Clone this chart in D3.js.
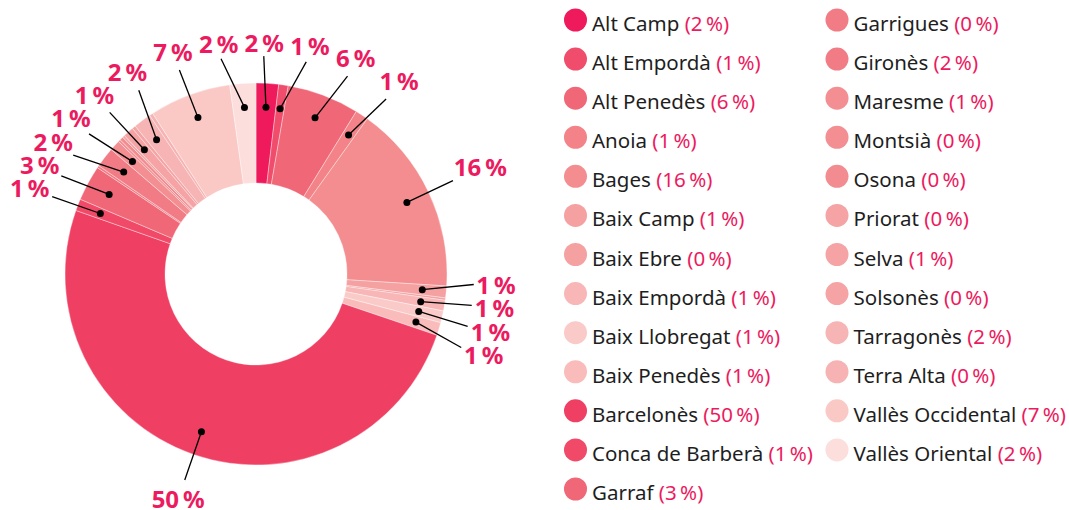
<!DOCTYPE html>
<html>
<head>
<meta charset="utf-8">
<title>Comarques</title>
<script src="https://d3js.org/d3.v7.min.js"></script>
<style>
  body { margin: 0; background: #fff; }
  svg { display: block; font-family: "Noto Sans", sans-serif; }
  .legend text { font-size: 20.5px; fill: #1e1e1e; }
  .legend .pct { fill: #ec1a5e; }
  .slice-label { font-size: 24px; font-weight: bold; fill: #ec1a5e; }
  .connector { stroke: #000; stroke-width: 1.3; fill: none; }
</style>
</head>
<body>
<div id="chart"></div>
<script>
// comarques, in legend / slice order
const comarques = [
  "Alt Camp", "Alt Empordà", "Alt Penedès", "Anoia", "Bages", "Baix Camp",
  "Baix Ebre", "Baix Empordà", "Baix Llobregat", "Baix Penedès", "Barcelonès",
  "Conca de Barberà", "Garraf", "Garrigues", "Gironès", "Maresme", "Montsià",
  "Osona", "Priorat", "Selva", "Solsonès", "Tarragonès", "Terra Alta",
  "Vallès Occidental", "Vallès Oriental"
];
// share of total, percent
const shares = [
  1.9, 0.8, 6.1, 1.1, 16.1, 1.0,
  0.2, 0.9, 1.0, 1.1, 50.2,
  1.0, 3.0, 0.2, 1.7, 0.9, 0.2,
  0.3, 0.2, 0.9, 0.3, 1.5, 0.3,
  6.9, 2.2
];
const palette = [
  "#ee1a5b", "#f04c6b", "#f06877", "#f38388", "#f48d8f", "#f5a0a1",
  "#f5a0a1", "#f8b6b6", "#facac8", "#f9bcbb", "#ef3f63",
  "#f04a68", "#f06777", "#f27c85", "#f27c85", "#f38f92", "#f38f92",
  "#f38c90", "#f5a3a4", "#f5a3a4", "#f5a3a4", "#f7b4b4", "#f7b3b3",
  "#fac9c6", "#fcdedc"
];

const W = 1069, H = 510;
const cx = 256, cy = 274;
const rOuter = 191, rInner = 91, rDot = 167, rLine = 218;

const svg = d3.select("#chart").append("svg")
  .attr("width", W)
  .attr("height", H);

const data = comarques.map((name, i) => ({name, value: shares[i]}));
const color = d3.scaleOrdinal().domain(comarques).range(palette);

const pie = d3.pie().sort(null).value(d => d.value);
const arc = d3.arc().innerRadius(rInner).outerRadius(rOuter);
const arcs = pie(data);

const ring = svg.append("g").attr("transform", `translate(${cx},${cy})`);

ring.selectAll("path")
  .data(arcs)
  .join("path")
  .attr("d", arc)
  .attr("fill", d => color(d.data.name))
  .attr("stroke", "#fff")
  .attr("stroke-width", 0.6)
  .attr("stroke-opacity", 0.6);

// labels for slices that round to at least 1 %
const fmt = v => Math.round(v) + "\u2009%";
const labels = arcs.filter(d => Math.round(d.data.value) >= 1).map(d => {
  const mid = (d.startAngle + d.endAngle) / 2;
  return {mid, a: mid, text: fmt(d.data.value)};
});

const labelG = ring.append("g");
const labelText = labelG.selectAll("text")
  .data(labels)
  .join("text")
  .attr("class", "slice-label")
  .attr("text-anchor", "middle")
  .attr("dy", "0.36em")
  .text(d => d.text);

labelText.each(function(d) { d.w = this.getComputedTextLength(); d.h = 20; });

function place(d) {
  const s = Math.sin(d.a), c = -Math.cos(d.a);
  const off = (d.w / 2) * Math.abs(s) + (d.h / 2) * Math.abs(c) + 2;
  d.ex = rLine * s; d.ey = rLine * c;
  d.x = (rLine + off) * s; d.y = (rLine + off) * c;
}
function overlap(p, q) {
  return Math.abs(p.x - q.x) < (p.w + q.w) / 2 + 6 &&
         Math.abs(p.y - q.y) < (p.h + q.h) / 2 + 3;
}
for (let it = 0; it < 800; it++) {
  labels.forEach(place);
  let moved = false;
  for (let i = 0; i < labels.length; i++) {
    const p = labels[i], q = labels[(i + 1) % labels.length];
    if (overlap(p, q)) { p.a -= 0.002; q.a += 0.002; moved = true; }
  }
  if (!moved) break;
}
labels.forEach(place);

labelG.selectAll("line")
  .data(labels)
  .join("line")
  .attr("class", "connector")
  .attr("x1", d => rDot * Math.sin(d.mid))
  .attr("y1", d => -rDot * Math.cos(d.mid))
  .attr("x2", d => d.ex)
  .attr("y2", d => d.ey);

labelG.selectAll("circle")
  .data(labels)
  .join("circle")
  .attr("cx", d => rDot * Math.sin(d.mid))
  .attr("cy", d => -rDot * Math.cos(d.mid))
  .attr("r", 3.5)
  .attr("fill", "#000");

labelText.attr("x", d => d.x).attr("y", d => d.y).raise();

// legend, two columns
const perCol = 13;
const rowY = d3.scaleLinear().domain([0, perCol - 1]).range([20, 489]);
const colX = [575.5, 837];

const legend = svg.append("g").attr("class", "legend")
  .selectAll("g")
  .data(data)
  .join("g")
  .attr("transform", (d, i) => `translate(${colX[Math.floor(i / perCol)]},${rowY(i % perCol)})`);

legend.append("circle")
  .attr("r", 11.5)
  .attr("fill", d => color(d.name));

const lt = legend.append("text")
  .attr("x", 16.5)
  .attr("y", 11);
lt.append("tspan").text(d => d.name + " ");
lt.append("tspan").attr("class", "pct").text(d => "(" + fmt(d.value) + ")");
</script>
</body>
</html>
